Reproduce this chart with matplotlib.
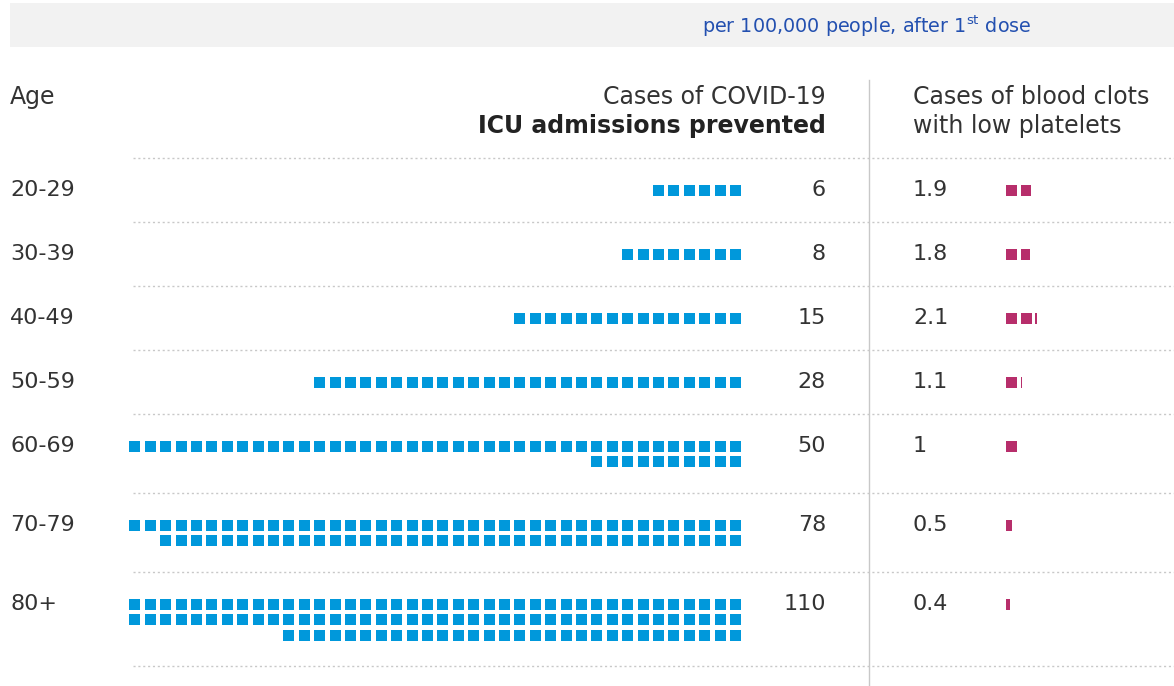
import matplotlib
matplotlib.use("Agg")
import matplotlib.pyplot as plt
from matplotlib.patches import Rectangle

ages = ['20-29', '30-39', '40-49', '50-59', '60-69', '70-79', '80+']
icu_prevented = [6, 8, 15, 28, 50, 78, 110]
clot_cases = [1.9, 1.8, 2.1, 1.1, 1.0, 0.5, 0.4]
clot_labels = ['1.9', '1.8', '2.1', '1.1', '1', '0.5', '0.4']

BLUE = '#0098db'
MAGENTA = '#b72e6b'
TEXT = '#333333'
GRID = '#c8c8c8'

plt.rcParams['font.family'] = ['DejaVu Sans']
plt.rcParams['mathtext.default'] = 'regular'

W, H = 1174, 686
fig = plt.figure(figsize=(W / 100, H / 100), dpi=100)
ax = fig.add_axes([0, 0, 1, 1])
ax.set_xlim(0, W)
ax.set_ylim(H, 0)
ax.axis('off')

# header band
ax.add_patch(Rectangle((10, 3), W - 10, 44, color='#f2f2f2', lw=0))
ax.text(867, 26, 'per 100,000 people, after 1$^{st}$ dose', color='#2350b0',
        fontsize=13.8, ha='center', va='center')

fs = 16   # row labels and values
hfs = 17  # column headers
ax.text(10, 97, 'Age', fontsize=hfs, color=TEXT, va='center')
ax.text(826, 97, 'Cases of COVID-19', fontsize=hfs, color=TEXT, va='center', ha='right')
ax.text(826, 126, 'ICU admissions prevented', fontsize=hfs, color='#222222',
        va='center', ha='right', fontweight='bold')
ax.text(913, 97, 'Cases of blood clots', fontsize=hfs, color=TEXT, va='center')
ax.text(913, 126, 'with low platelets', fontsize=hfs, color=TEXT, va='center')

ax.plot([869, 869], [80, H], color=GRID, lw=1)

per_line = 40
sq = 11
pitch_x = 15.4
pitch_y = 15.5
right_edge = 741
clot_x0 = 1006
clot_pitch = 14.7

y_div = 158
ax.plot([133, W], [y_div, y_div], color=GRID, lw=1, ls=(0, (1.5, 2)))
for age, n, c, clab in zip(ages, icu_prevented, clot_cases, clot_labels):
    nlines = -(-n // per_line)
    yc = y_div + 32
    ax.text(10, yc, age, fontsize=fs, color=TEXT, va='center')
    ax.text(826, yc, str(n), fontsize=fs, color=TEXT, va='center', ha='right')
    ax.text(913, yc, clab, fontsize=fs, color=TEXT, va='center')

    # blue squares, filled right to left, one full line then the rest
    left = n
    for line in range(nlines):
        k = min(per_line, left)
        left -= k
        y = yc + line * pitch_y
        for i in range(k):
            x = right_edge - i * pitch_x - sq
            ax.add_patch(Rectangle((x, y - sq / 2), sq, sq, color=BLUE, lw=0))

    # magenta squares, partial width for the fraction
    full = int(c)
    frac = round(c - full, 2)
    for i in range(full):
        ax.add_patch(Rectangle((clot_x0 + i * clot_pitch, yc - sq / 2), sq, sq,
                               color=MAGENTA, lw=0))
    if frac > 0:
        ax.add_patch(Rectangle((clot_x0 + full * clot_pitch, yc - sq / 2),
                               max(frac * sq, 1.5), sq, color=MAGENTA, lw=0))

    y_div = y_div + 49 + 15 * nlines
    ax.plot([133, W], [y_div, y_div], color=GRID, lw=1, ls=(0, (1.5, 2)))

fig.savefig('out.png', dpi=100)
